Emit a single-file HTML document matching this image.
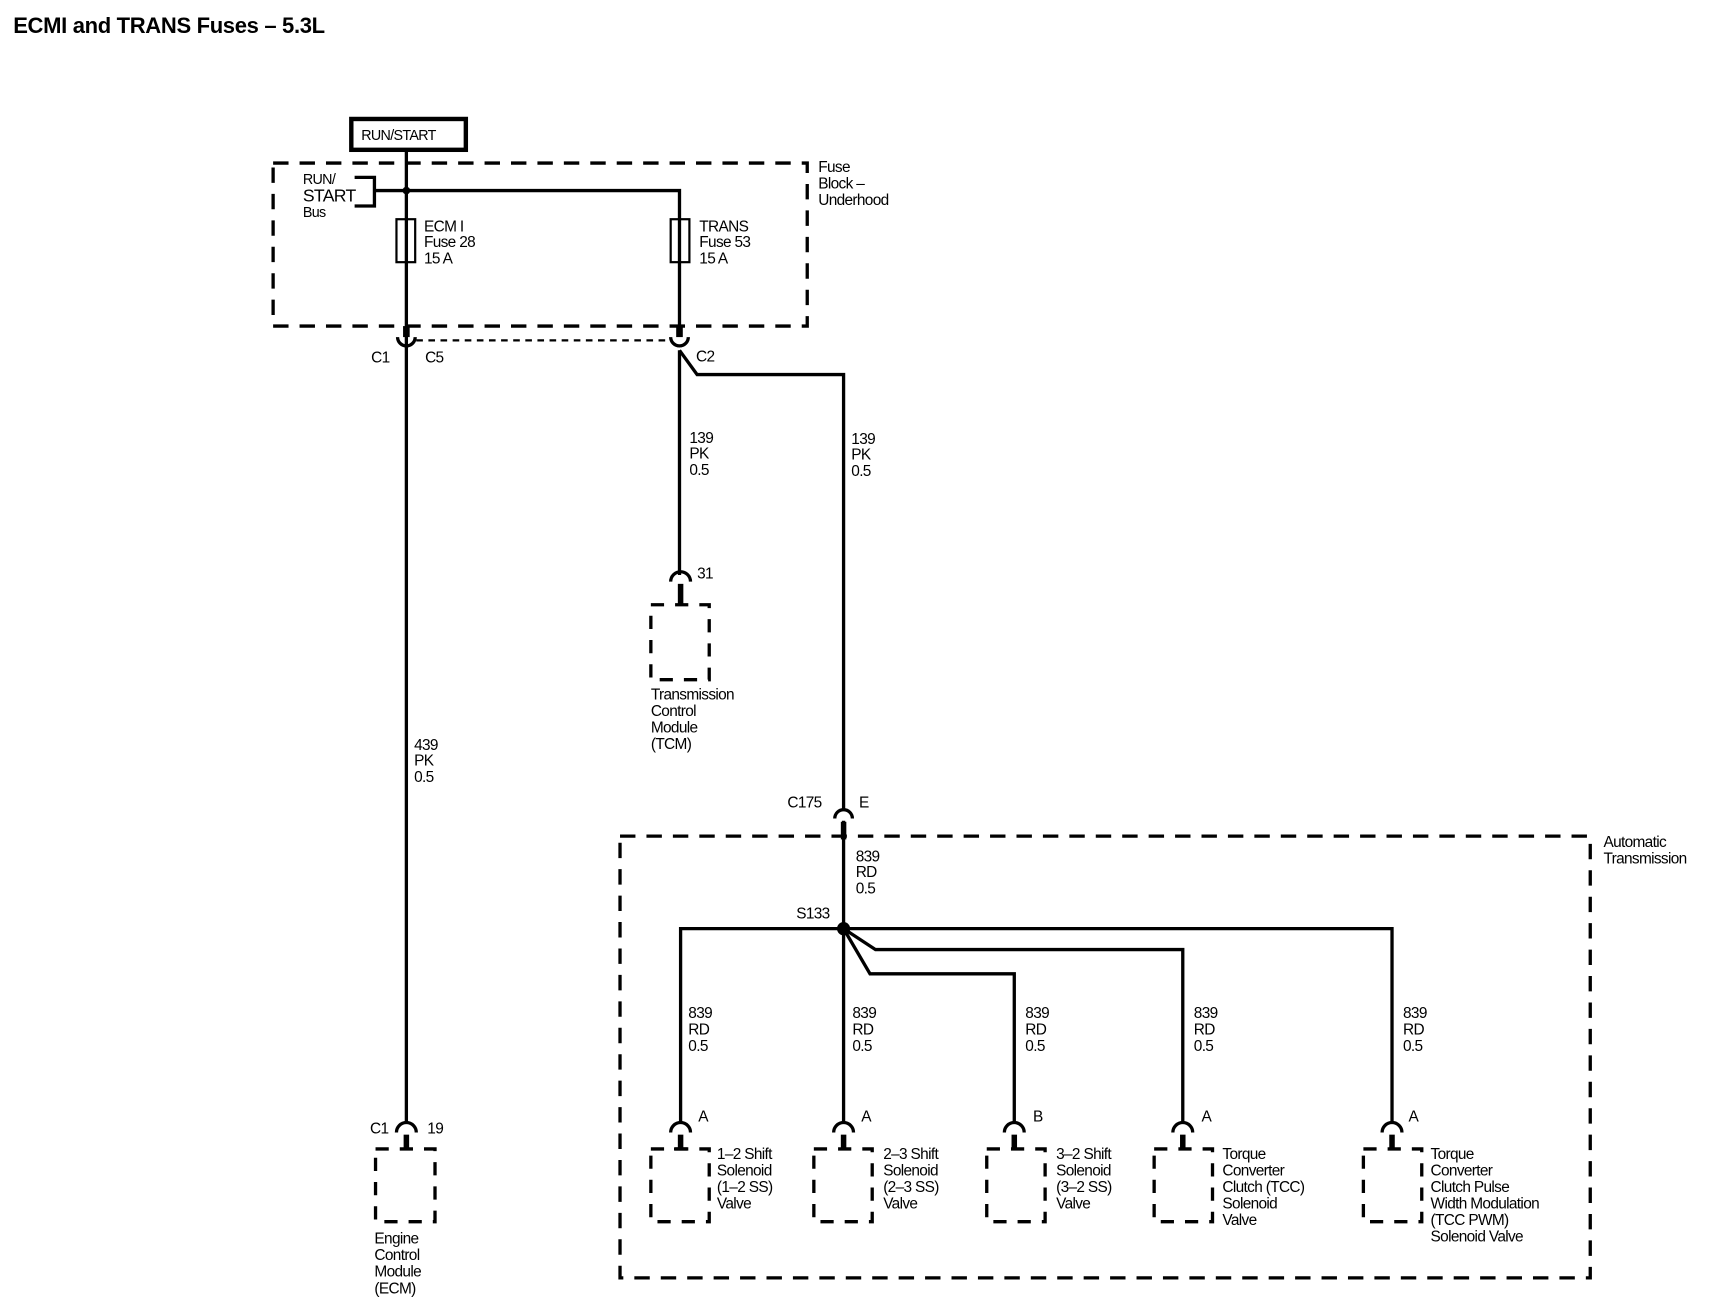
<!DOCTYPE html>
<html><head><meta charset="utf-8"><style>
html,body{margin:0;padding:0;background:#fff;}
svg{display:block;}
text{font-family:"Liberation Sans",Arial,sans-serif;font-size:14px;fill:#000;letter-spacing:-0.6px;}
.b{font-weight:bold;}
</style></head><body>
<svg width="1718" height="1312" viewBox="0 0 1560 1191" preserveAspectRatio="none" xmlns="http://www.w3.org/2000/svg">
<text x="12" y="30" class="b" style="font-size:20px;letter-spacing:-0.3px">ECMI and TRANS Fuses – 5.3L</text>

<!-- RUN/START box -->
<rect x="319" y="108" width="104" height="28" fill="none" stroke="#000" stroke-width="4"/>
<text x="328" y="127" style="font-size:13px">RUN/START</text>

<g fill="none" stroke="#000">
<!-- Fuse block dashed -->
<rect x="248" y="148" width="485" height="148" stroke-width="3" stroke-dasharray="14,10"/>
<!-- Auto trans dashed -->
<rect x="563" y="759" width="881" height="401" stroke-width="3" stroke-dasharray="14,10"/>

<g stroke-width="3">
<line x1="369" y1="138" x2="369" y2="1020"/>
<polyline points="340,173 617,173 617,305"/>
<polyline points="322,161 340,161 340,187 322,187"/>
<polyline points="617,318 633,340 766,340 766,735"/>
<line x1="617" y1="318" x2="617" y2="522"/>
<line x1="766" y1="745" x2="766" y2="843"/>
<polyline points="618,1020 618,843 1264,843 1264,1020"/>
<line x1="766" y1="843" x2="766" y2="1020"/>
<polyline points="766,843 795,862 1074,862 1074,1020"/>
<polyline points="766,843 790,884 921,884 921,1020"/>
</g>
<!-- fuses -->
<rect x="360" y="199" width="17" height="39" stroke-width="2" fill="#fff"/>
<line x1="369" y1="199" x2="369" y2="238" stroke-width="3"/>
<rect x="609" y="199" width="17" height="39" stroke-width="2" fill="#fff"/>
<line x1="617" y1="199" x2="617" y2="238" stroke-width="3"/>
<!-- top connector stubs and cups -->
<line x1="369" y1="296" x2="369" y2="306" stroke-width="6"/>
<line x1="617" y1="296" x2="617" y2="306" stroke-width="6"/>
<path d="M361 306 A8 8 0 0 0 377 306" stroke-width="3"/>
<path d="M609 306 A8 8 0 0 0 625 306" stroke-width="3"/>
<line x1="378" y1="309" x2="608" y2="309" stroke-width="2" stroke-dasharray="6,5"/>
<!-- C175 -->
<path d="M758 743 A8 8 0 0 1 774 743" stroke-width="3"/>
<line x1="766" y1="746" x2="766" y2="762" stroke-width="5"/>
</g>
<circle cx="369" cy="173" r="3.5"/>
<circle cx="766" cy="843" r="6"/>

<!-- device connectors + boxes -->
<g fill="none" stroke="#000">
<g id="d1">
<path d="M609 1028 A9 9 0 0 1 627 1028" stroke-width="3"/>
<line x1="618" y1="1030" x2="618" y2="1043" stroke-width="5"/>
<line x1="612" y1="1043" x2="624" y2="1043" stroke-width="3"/>
<rect x="591" y="1043" width="53" height="66" stroke-width="3" stroke-dasharray="12,10"/>
</g>
</g>
<g fill="none" stroke="#000">
<path d="M609 528 A9 9 0 0 1 627 528" stroke-width="3"/>
<line x1="618" y1="530" x2="618" y2="549" stroke-width="5"/>
<rect x="591" y="549" width="53" height="68" stroke-width="3" stroke-dasharray="12,10"/>
<path d="M360 1028 A9 9 0 0 1 378 1028" stroke-width="3"/>
<line x1="369" y1="1030" x2="369" y2="1043" stroke-width="5"/>
<rect x="341" y="1043" width="54" height="66" stroke-width="3" stroke-dasharray="12,10"/>
<path d="M757 1028 A9 9 0 0 1 775 1028" stroke-width="3"/>
<line x1="766" y1="1030" x2="766" y2="1043" stroke-width="5"/>
<rect x="739" y="1043" width="53" height="66" stroke-width="3" stroke-dasharray="12,10"/>
<path d="M912 1028 A9 9 0 0 1 930 1028" stroke-width="3"/>
<line x1="921" y1="1030" x2="921" y2="1043" stroke-width="5"/>
<rect x="896" y="1043" width="53" height="66" stroke-width="3" stroke-dasharray="12,10"/>
<path d="M1065 1028 A9 9 0 0 1 1083 1028" stroke-width="3"/>
<line x1="1074" y1="1030" x2="1074" y2="1043" stroke-width="5"/>
<rect x="1048" y="1043" width="53" height="66" stroke-width="3" stroke-dasharray="12,10"/>
<path d="M1255 1028 A9 9 0 0 1 1273 1028" stroke-width="3"/>
<line x1="1264" y1="1030" x2="1264" y2="1043" stroke-width="5"/>
<rect x="1238" y="1043" width="53" height="66" stroke-width="3" stroke-dasharray="12,10"/>
</g>

<!-- labels -->
<text x="275" y="167" style="font-size:13px">RUN/</text>
<text x="275" y="183" style="font-size:16px">START</text>
<text x="275" y="197" style="font-size:13px">Bus</text>
<text x="743" y="156">Fuse</text><text x="743" y="171">Block –</text><text x="743" y="186">Underhood</text>
<text x="385" y="210">ECM I</text><text x="385" y="224">Fuse 28</text><text x="385" y="239">15 A</text>
<text x="635" y="210">TRANS</text><text x="635" y="224">Fuse 53</text><text x="635" y="239">15 A</text>
<text x="337" y="329">C1</text><text x="386" y="329">C5</text><text x="632" y="328">C2</text>
<text x="626" y="402">139</text><text x="626" y="416">PK</text><text x="626" y="431">0.5</text>
<text x="773" y="403">139</text><text x="773" y="417">PK</text><text x="773" y="432">0.5</text>
<text x="633" y="525">31</text>
<text x="591" y="635">Transmission</text><text x="591" y="650">Control</text><text x="591" y="665">Module</text><text x="591" y="680">(TCM)</text>
<text x="376" y="681">439</text><text x="376" y="695">PK</text><text x="376" y="710">0.5</text>
<text x="715" y="733">C175</text><text x="780" y="733">E</text>
<text x="1456" y="769">Automatic</text><text x="1456" y="784">Transmission</text>
<text x="777" y="782">839</text><text x="777" y="796">RD</text><text x="777" y="811">0.5</text>
<text x="723" y="834">S133</text>
<text x="625" y="924">839</text><text x="625" y="939">RD</text><text x="625" y="954">0.5</text>
<text x="774" y="924">839</text><text x="774" y="939">RD</text><text x="774" y="954">0.5</text>
<text x="931" y="924">839</text><text x="931" y="939">RD</text><text x="931" y="954">0.5</text>
<text x="1084" y="924">839</text><text x="1084" y="939">RD</text><text x="1084" y="954">0.5</text>
<text x="1274" y="924">839</text><text x="1274" y="939">RD</text><text x="1274" y="954">0.5</text>
<text x="336" y="1029">C1</text><text x="388" y="1029">19</text>
<text x="634" y="1018">A</text><text x="782" y="1018">A</text><text x="938" y="1018">B</text><text x="1091" y="1018">A</text><text x="1279" y="1018">A</text>
<text x="340" y="1129">Engine</text><text x="340" y="1144">Control</text><text x="340" y="1159">Module</text><text x="340" y="1174">(ECM)</text>
<text x="651" y="1052">1–2 Shift</text><text x="651" y="1067">Solenoid</text><text x="651" y="1082">(1–2 SS)</text><text x="651" y="1097">Valve</text>
<text x="802" y="1052">2–3 Shift</text><text x="802" y="1067">Solenoid</text><text x="802" y="1082">(2–3 SS)</text><text x="802" y="1097">Valve</text>
<text x="959" y="1052">3–2 Shift</text><text x="959" y="1067">Solenoid</text><text x="959" y="1082">(3–2 SS)</text><text x="959" y="1097">Valve</text>
<text x="1110" y="1052">Torque</text><text x="1110" y="1067">Converter</text><text x="1110" y="1082">Clutch (TCC)</text><text x="1110" y="1097">Solenoid</text><text x="1110" y="1112">Valve</text>
<text x="1299" y="1052">Torque</text><text x="1299" y="1067">Converter</text><text x="1299" y="1082">Clutch Pulse</text><text x="1299" y="1097">Width Modulation</text><text x="1299" y="1112">(TCC PWM)</text><text x="1299" y="1127">Solenoid Valve</text>
</svg>
</body></html>
